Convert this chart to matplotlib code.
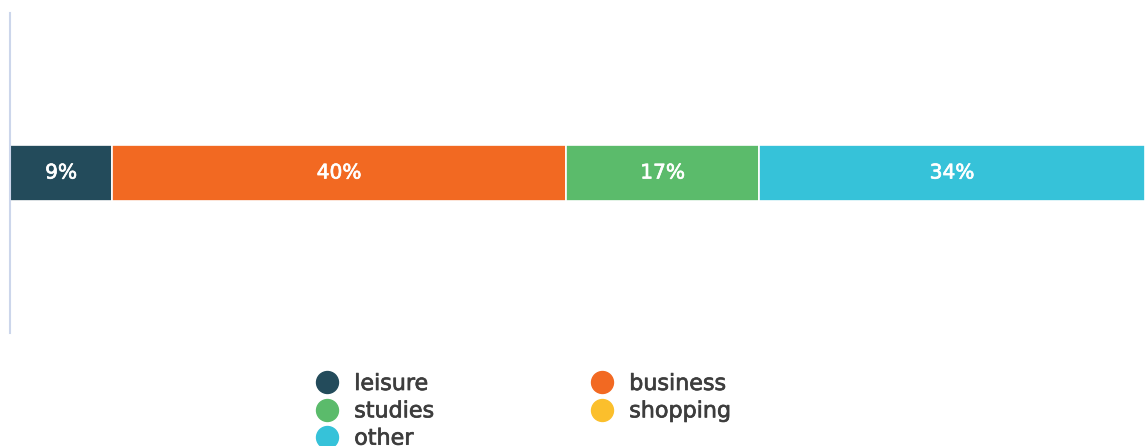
import matplotlib
matplotlib.use("Agg")
import matplotlib.pyplot as plt
import matplotlib.patheffects as pe
from matplotlib.lines import Line2D

plt.rcParams['font.family'] = ['DejaVu Sans']

# share of trips by purpose (%)
categories = ['leisure', 'business', 'studies', 'shopping', 'other']
shares = [9, 40, 17, 0, 34]
colors = ['#234b5b', '#f26922', '#5bbb6b', '#fbbf2c', '#36c2d9']

fig = plt.figure(figsize=(11.48, 4.46), dpi=100)
ax = fig.add_axes([10 / 1148, (446 - 333) / 446, 1135 / 1148, 320 / 446])

left = 0
for cat, val, col in zip(categories, shares, colors):
    if val > 0:
        ax.barh(0, val, left=left, height=0.175, color=col,
                edgecolor='white', linewidth=1.2)
        ax.text(left + val / 2, 0, '%d%%' % val, ha='center', va='center',
                color='white', fontsize=14.5,
                path_effects=[pe.withStroke(linewidth=0.5, foreground='white')])
    left += val

ax.set_xlim(0, 100)
ax.set_ylim(-0.5, 0.5)
ax.set_xticks([])
ax.set_yticks([])
for side in ['top', 'right', 'bottom']:
    ax.spines[side].set_visible(False)
ax.spines['left'].set_color('#ccd6eb')
ax.spines['left'].set_linewidth(1.5)

# legend: two columns, filled column-first
order = [0, 2, 4, 1, 3]
handles = [Line2D([], [], marker='o', linestyle='', markersize=15.8,
                  markerfacecolor=colors[i], markeredgecolor=colors[i])
           for i in order]
labels = [categories[i] for i in order]
leg = fig.legend(handles, labels, ncol=2, loc='upper left',
                 bbox_to_anchor=(316 / 1148, 1 - 374 / 446), frameon=False,
                 fontsize=16, labelcolor='#3d3d3d', handletextpad=0.72,
                 columnspacing=7.05, labelspacing=0.33, handlelength=1.0,
                 borderpad=0, borderaxespad=0)
for t in leg.get_texts():
    t.set_path_effects([pe.withStroke(linewidth=0.5, foreground='#3d3d3d')])

fig.savefig('out.png', dpi=100)
